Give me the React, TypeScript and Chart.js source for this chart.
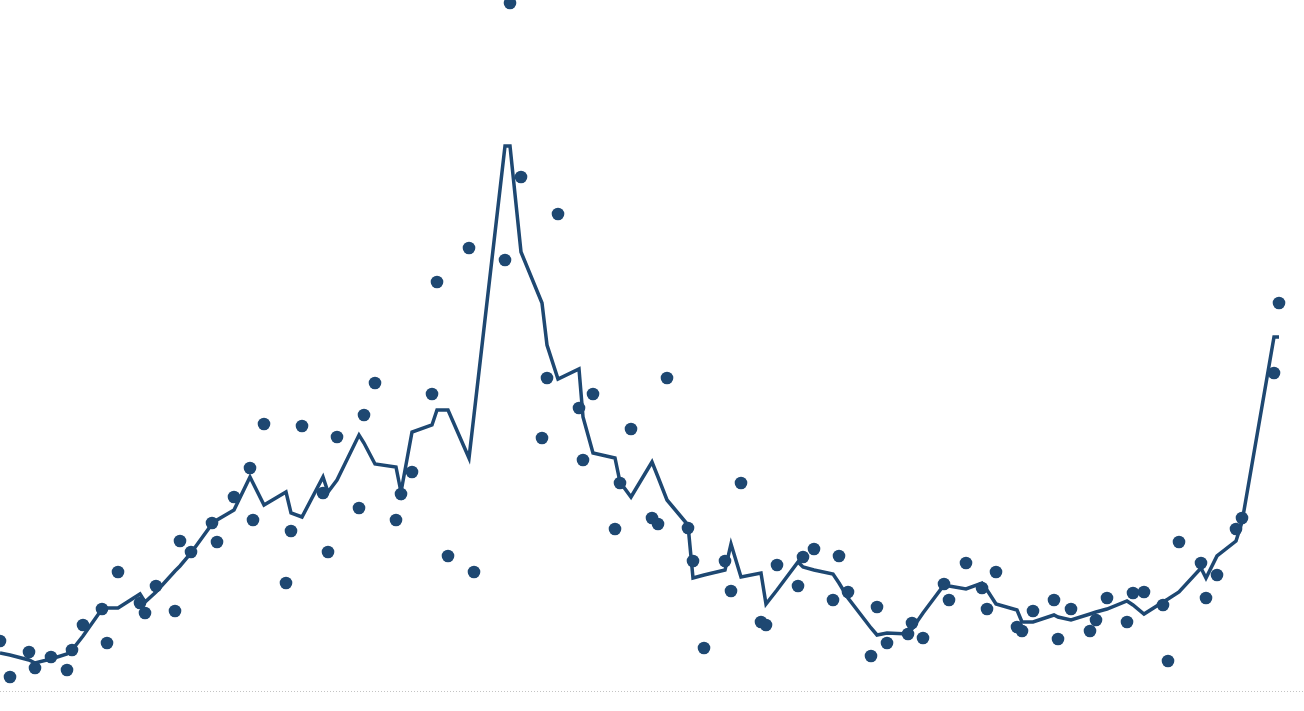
import React, { useEffect, useRef } from "react";
import { Chart, registerables } from "chart.js";

Chart.register(...registerables);

// Positions along the time axis (shared by the observations and the smoothed line)
const timeIndex: number[] = [
  0, 10, 29, 35, 51, 67, 72, 83, 102, 107,
  118, 140, 145, 156, 175, 180, 191, 212, 217, 234,
  250, 253, 264, 286, 291, 302, 323, 328, 337, 359,
  364, 375, 396, 401, 412, 432, 437, 448, 469, 474,
  505, 510, 521, 542, 547, 558, 579, 583, 593, 615,
  620, 631, 652, 658, 667, 688, 693, 704, 725, 731,
  741, 761, 766, 777, 798, 803, 814, 833, 839, 848,
  871, 877, 887, 908, 912, 923, 944, 949, 966, 982,
  987, 996, 1017, 1022, 1033, 1054, 1058, 1071, 1090, 1096,
  1107, 1127, 1133, 1144, 1163, 1168, 1179, 1201, 1206, 1217,
  1236, 1242, 1274, 1279,
];

// Individual observations (dots)
const observed: number[] = [
  10.0, 2.8, 7.8, 4.6, 6.8, 4.2, 8.2, 13.2, 16.4, 9.6,
  23.8, 17.6, 15.6, 21.0, 16.0, 30.0, 27.8, 33.6, 29.8, 38.8,
  44.6, 34.2, 53.4, 21.6, 32.0, 53.0, 39.6, 27.8, 50.8, 36.6,
  55.2, 61.6, 34.2, 39.4, 43.8, 59.4, 81.8, 27.0, 88.6, 23.8,
  86.2, 137.6, 102.8, 50.6, 62.6, 95.4, 56.6, 46.2, 59.4, 32.4,
  41.6, 52.4, 34.6, 33.4, 62.6, 32.6, 26.0, 8.6, 26.0, 20.0,
  41.6, 13.8, 13.2, 25.2, 21.0, 26.8, 28.4, 18.2, 27.0, 19.8,
  7.0, 16.8, 9.6, 11.4, 13.6, 10.6, 21.4, 18.2, 25.6, 20.6,
  16.4, 23.8, 12.8, 12.0, 16.0, 18.2, 10.4, 16.4, 12.0, 14.2,
  18.6, 13.8, 19.6, 19.8, 17.2, 6.0, 29.8, 25.6, 18.6, 23.2,
  32.4, 34.6, 63.6, 77.6,
];

// Smoothed trend (line)
const trend: number[] = [
  7.6, 7.2, 6.2, 5.6, 6.4, 7.4, 8.2, 11.0, 16.4, 16.6,
  16.6, 19.4, 17.8, 19.8, 24.0, 25.0, 27.6, 33.4, 34.2, 36.2,
  42.8, 41.6, 37.2, 39.8, 35.6, 34.8, 42.8, 39.8, 42.2, 51.2,
  49.6, 45.4, 44.8, 39.8, 51.8, 53.2, 56.2, 56.2, 46.6, 55.2,
  109.0, 109.0, 87.8, 77.6, 69.2, 62.4, 64.4, 54.8, 47.6, 46.6,
  41.8, 38.8, 45.8, 42.8, 38.2, 33.2, 22.6, 23.2, 24.2, 29.4,
  22.8, 23.6, 17.4, 20.2, 25.8, 24.8, 24.2, 23.4, 21.6, 18.6,
  12.6, 11.2, 11.6, 11.4, 12.4, 15.6, 21.2, 21.0, 20.4, 21.6,
  20.2, 17.4, 16.2, 13.8, 13.8, 15.2, 14.8, 14.2, 15.4, 15.8,
  16.4, 18.0, 17.2, 15.4, 17.8, 18.4, 19.8, 24.6, 22.6, 27.0,
  30.0, 33.8, 70.8, 70.8,
];

const X_MIN = 0;
const X_MAX = 1304;
const Y_MIN = 0;
const Y_MAX = 138.2;

const NAVY = "#1e4872";

const baselinePlugin = {
  id: "dottedBaseline",
  beforeDatasetsDraw(chart: any) {
    const { ctx, scales } = chart;
    const y = Math.round(scales.y.getPixelForValue(0)) + 0.5;
    ctx.save();
    ctx.strokeStyle = "#c4c4c4";
    ctx.lineWidth = 1;
    ctx.setLineDash([1, 2]);
    ctx.beginPath();
    ctx.moveTo(scales.x.getPixelForValue(X_MIN), y);
    ctx.lineTo(scales.x.getPixelForValue(X_MAX), y);
    ctx.stroke();
    ctx.restore();
  },
};

export default function App() {
  const canvasRef = useRef<HTMLCanvasElement | null>(null);

  useEffect(() => {
    document.body.style.margin = "0";
    const canvas = canvasRef.current;
    if (!canvas) return;
    const chart = new Chart(canvas, {
      type: "line",
      data: {
        datasets: [
          {
            type: "line",
            label: "Trend",
            data: timeIndex.map((x, i) => ({ x, y: trend[i] })),
            borderColor: NAVY,
            borderWidth: 3.5,
            pointRadius: 0,
            tension: 0,
            fill: false,
            borderJoinStyle: "miter",
            borderCapStyle: "butt",
          },
          {
            type: "scatter",
            label: "Observed",
            data: timeIndex.map((x, i) => ({ x, y: observed[i] })),
            backgroundColor: NAVY,
            borderColor: NAVY,
            borderWidth: 0,
            pointRadius: 6.3,
            pointHoverRadius: 6.3,
            showLine: false,
          },
        ],
      },
      options: {
        animation: false,
        responsive: false,
        maintainAspectRatio: false,
        layout: { autoPadding: false, padding: { left: 0, right: 0, top: 0, bottom: 20 } },
        plugins: {
          legend: { display: false },
          tooltip: { enabled: false },
          title: { display: false },
        },
        scales: {
          x: { type: "linear", min: X_MIN, max: X_MAX, display: false },
          y: { type: "linear", min: Y_MIN, max: Y_MAX, display: false },
        },
      },
      plugins: [baselinePlugin],
    });
    return () => chart.destroy();
  }, []);

  return (
    <div style={{ position: "absolute", left: 0, top: 0, width: 1304, height: 711, background: "#ffffff" }}>
      <canvas ref={canvasRef} width={1304} height={711} />
    </div>
  );
}
